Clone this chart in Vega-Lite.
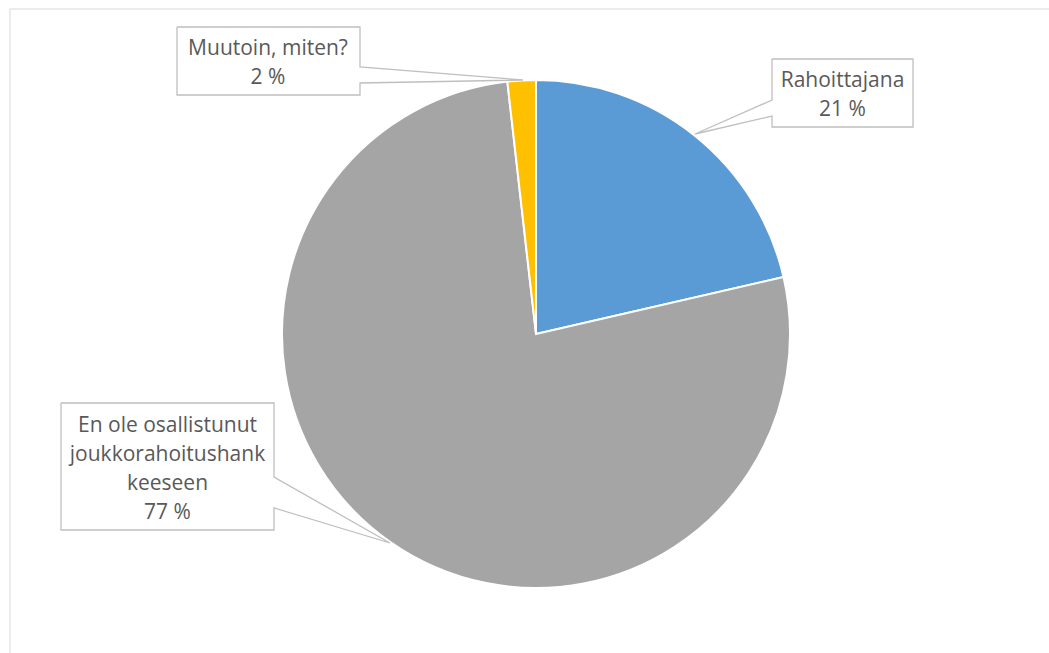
{
  "$schema": "https://vega.github.io/schema/vega-lite/v6.json",
  "width": 1026,
  "height": 638,
  "autosize": {"type": "none"},
  "padding": {"left": 23, "top": 15, "right": 0, "bottom": 0},
  "background": "white",
  "config": {"view": {"stroke": null}},
  "datasets": {
    "slices": [
      {"category": "Rahoittajana", "value": 21.4, "ord": 1},
      {"category": "En ole osallistunut joukkorahoitushankkeeseen", "value": 76.8, "ord": 2},
      {"category": "Muutoin, miten?", "value": 1.8, "ord": 3}
    ],
    "frame": [
      {"x": -526, "x2": 700, "y": 325, "y2": -500}
    ],
    "callouts": [
      {"c": "m", "i": 1, "x": -359, "y": 307},
      {"c": "m", "i": 2, "x": -176, "y": 307},
      {"c": "m", "i": 3, "x": -176, "y": 267},
      {"c": "m", "i": 4, "x": -13, "y": 254},
      {"c": "m", "i": 5, "x": -176, "y": 251},
      {"c": "m", "i": 6, "x": -176, "y": 239},
      {"c": "m", "i": 7, "x": -359, "y": 239},
      {"c": "m", "i": 8, "x": -359, "y": 307},
      {"c": "r", "i": 1, "x": 236, "y": 275},
      {"c": "r", "i": 2, "x": 377, "y": 275},
      {"c": "r", "i": 3, "x": 377, "y": 207},
      {"c": "r", "i": 4, "x": 236, "y": 207},
      {"c": "r", "i": 5, "x": 236, "y": 218},
      {"c": "r", "i": 6, "x": 159, "y": 200},
      {"c": "r", "i": 7, "x": 236, "y": 234},
      {"c": "r", "i": 8, "x": 236, "y": 275},
      {"c": "e", "i": 1, "x": -475, "y": -69},
      {"c": "e", "i": 2, "x": -262, "y": -69},
      {"c": "e", "i": 3, "x": -262, "y": -143},
      {"c": "e", "i": 4, "x": -146, "y": -209},
      {"c": "e", "i": 5, "x": -262, "y": -174},
      {"c": "e", "i": 6, "x": -262, "y": -196},
      {"c": "e", "i": 7, "x": -475, "y": -196},
      {"c": "e", "i": 8, "x": -475, "y": -69}
    ],
    "labels": [
      {"x": -268, "y": 279, "label": "Muutoin, miten?\n2 %"},
      {"x": 306.5, "y": 247, "label": "Rahoittajana\n21 %"},
      {"x": -368.5, "y": -98, "label": "En ole osallistunut\njoukkorahoitushank\nkeeseen\n77 %"}
    ]
  },
  "layer": [
    {
      "data": {"name": "frame"},
      "mark": {"type": "rect", "fill": null, "fillOpacity": 0, "stroke": "#D9D9D9", "strokeWidth": 1},
      "encoding": {
        "x": {"field": "x", "type": "quantitative", "scale": {"domain": [-513, 513], "nice": false, "zero": false}, "axis": null},
        "x2": {"field": "x2"},
        "y": {"field": "y", "type": "quantitative", "scale": {"domain": [-319, 319], "nice": false, "zero": false}, "axis": null},
        "y2": {"field": "y2"}
      }
    },
    {
      "data": {"name": "slices"},
      "mark": {"type": "arc", "outerRadius": 254, "stroke": "white", "strokeWidth": 2},
      "encoding": {
        "theta": {"field": "value", "type": "quantitative", "stack": true},
        "order": {"field": "ord", "type": "quantitative"},
        "color": {
          "field": "category",
          "type": "nominal",
          "scale": {
            "domain": ["Rahoittajana", "En ole osallistunut joukkorahoitushankkeeseen", "Muutoin, miten?"],
            "range": ["#5B9BD5", "#A5A5A5", "#FFC000"]
          },
          "legend": null
        }
      }
    },
    {
      "data": {"name": "callouts"},
      "mark": {"type": "line", "stroke": "#BFBFBF", "strokeWidth": 1.3},
      "encoding": {
        "x": {"field": "x", "type": "quantitative"},
        "y": {"field": "y", "type": "quantitative"},
        "detail": {"field": "c", "type": "nominal"},
        "order": {"field": "i", "type": "quantitative"}
      }
    },
    {
      "data": {"name": "labels"},
      "mark": {"type": "text", "align": "center", "baseline": "alphabetic", "lineBreak": "\n", "lineHeight": 29, "font": "Open Sans", "fontSize": 21, "color": "#595959"},
      "encoding": {
        "x": {"field": "x", "type": "quantitative"},
        "y": {"field": "y", "type": "quantitative"},
        "text": {"field": "label"}
      }
    }
  ]
}
